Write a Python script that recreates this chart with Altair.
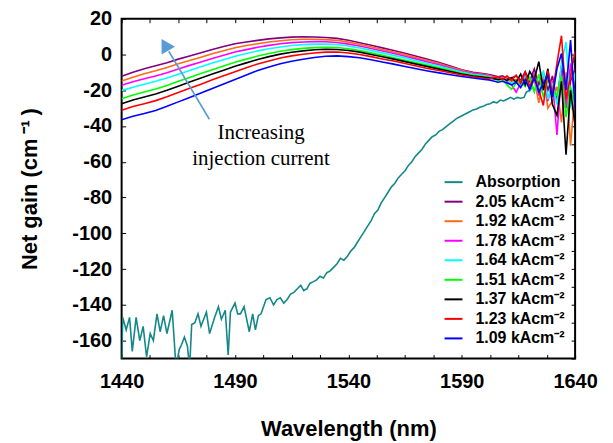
import altair as alt
import pandas as pd

# ---------------- data ----------------
gain_wl = [1440, 1445, 1450, 1455, 1460, 1465, 1470, 1475, 1480, 1485, 1490,
           1495, 1500, 1505, 1510, 1515, 1520, 1525, 1530, 1535, 1540, 1545,
           1550, 1555, 1560, 1565, 1570, 1575, 1580, 1585, 1590, 1595, 1600,
           1602, 1604, 1606, 1608, 1610, 1612, 1614, 1616, 1618, 1620, 1622,
           1624, 1626, 1628, 1630, 1632, 1634, 1636, 1638, 1640]

current_labels = ["2.05", "1.92", "1.78", "1.64", "1.51", "1.37", "1.23", "1.09"]

gain_205 = [-12.2, -10.0, -8.0, -6.3, -4.6, -2.6, -0.8, 1.0, 2.8, 4.4, 6.0,
            7.0, 7.9, 8.7, 9.3, 9.7, 9.9, 9.8, 9.5, 9.0, 7.9, 6.6,
            5.2, 3.7, 2.2, 0.7, -1.0, -2.7, -4.5, -6.5, -8.5, -10.0, -10.8,
            -11.2, -11.8, -12.5, -12.0, -13.5, -13.0, -12.0, -14.5, -9.5, -15.0, -8.0,
            -17.0, -10.0, -20.0, -12.0, -26.0, -6.0, -30.0, -15.0, -8.0]
gain_192 = [-14.9, -12.7, -10.8, -9.1, -7.3, -5.2, -3.4, -1.5, 0.4, 2.1, 3.8,
            5.0, 6.0, 7.0, 7.7, 8.2, 8.5, 8.5, 8.3, 7.9, 6.9, 5.7,
            4.3, 2.8, 1.4, -0.1, -1.8, -3.4, -5.1, -7.0, -8.9, -10.4, -11.2,
            -11.6, -12.4, -13.0, -12.8, -14.0, -15.0, -14.0, -17.5, -13.0, -20.0, -14.0,
            -27.0, -12.0, -30.0, -26.0, -18.0, -38.0, -10.0, -51.0, -20.0]
gain_178 = [-17.2, -15.3, -13.6, -12.0, -10.2, -8.1, -6.1, -4.2, -2.2, -0.4, 1.4,
            2.7, 4.0, 5.1, 6.0, 6.6, 7.0, 7.2, 7.1, 6.7, 5.8, 4.7,
            3.3, 1.9, 0.5, -1.0, -2.6, -4.2, -5.8, -7.6, -9.4, -10.7, -11.5,
            -12.0, -12.8, -13.5, -13.0, -15.0, -17.0, -21.0, -16.0, -12.0, -19.0, -10.0,
            -23.0, -14.0, -26.0, -15.0, -45.0, -10.0, -30.0, -5.0, -25.0]
gain_164 = [-20.2, -18.3, -16.6, -15.0, -13.1, -11.0, -8.9, -6.9, -4.8, -2.9, -1.0,
            0.5, 2.0, 3.2, 4.2, 5.0, 5.5, 5.8, 5.8, 5.6, 4.7, 3.7,
            2.3, 0.9, -0.5, -1.9, -3.5, -5.0, -6.5, -8.2, -9.8, -11.1, -11.9,
            -12.3, -13.0, -13.8, -13.2, -14.5, -16.0, -15.0, -18.0, -11.0, -20.0, -12.0,
            -22.0, -9.0, -25.0, -16.0, -28.0, -5.0, 7.0, -30.0, -10.0]
gain_151 = [-24.8, -22.7, -21.0, -19.3, -17.3, -15.0, -12.9, -10.7, -8.5, -6.5, -4.4,
            -2.6, -0.9, 0.5, 1.8, 2.7, 3.4, 3.8, 4.0, 3.9, 3.2, 2.2,
            0.9, -0.4, -1.8, -3.2, -4.6, -6.1, -7.5, -9.0, -10.5, -11.7, -12.5,
            -12.8, -13.5, -14.5, -14.0, -17.0, -19.5, -16.0, -15.0, -18.0, -13.0, -21.0,
            -11.0, -24.0, -14.0, -20.0, -23.0, -12.0, -35.0, -18.0, -28.0]
gain_137 = [-27.5, -25.4, -23.8, -22.1, -20.0, -17.7, -15.4, -13.2, -10.9, -8.8, -6.6,
            -4.7, -2.8, -1.2, 0.2, 1.2, 2.0, 2.6, 2.9, 2.8, 2.2, 1.3,
            0.0, -1.3, -2.6, -4.0, -5.4, -6.8, -8.2, -9.5, -10.9, -12.0, -12.8,
            -13.0, -13.5, -14.0, -13.5, -14.5, -13.0, -15.5, -11.0, -17.0, -9.5, -14.0,
            -4.0, -20.0, -8.0, -28.0, -34.0, -15.0, -56.0, -20.0, -40.0]
gain_123 = [-31.2, -29.1, -27.5, -25.8, -23.6, -21.2, -18.9, -16.6, -14.2, -11.9, -9.6,
            -7.4, -5.3, -3.6, -2.0, -0.8, 0.1, 0.8, 1.3, 1.4, 0.8, 0.0,
            -1.2, -2.5, -3.7, -5.1, -6.5, -7.8, -9.0, -10.2, -11.5, -12.5, -13.3,
            -13.5, -13.0, -12.5, -14.0, -12.0, -14.5, -11.5, -16.0, -10.0, -18.0, -12.0,
            -20.0, -28.5, -9.0, -22.0, -5.0, 10.5, -25.0, -12.0, 2.0]
gain_109 = [-36.5, -34.5, -33.0, -31.3, -29.0, -26.5, -24.0, -21.5, -19.0, -16.5, -14.0,
            -11.5, -9.0, -7.0, -5.2, -3.8, -2.7, -1.7, -1.0, -0.8, -1.2, -1.8,
            -3.0, -4.2, -5.4, -6.7, -8.0, -9.2, -10.3, -11.3, -12.3, -13.2, -14.0,
            -14.2, -14.8, -15.5, -15.0, -16.0, -17.0, -15.5, -18.5, -14.0, -19.5, -13.0,
            -21.0, -16.0, -12.0, -24.0, -8.0, 0.5, -20.0, 8.0, -30.0]

abs_wl = [1440.0, 1440.5, 1442.0, 1443.5, 1444.7, 1446.4, 1448.0, 1449.5, 1451.0,
          1452.6, 1454.0, 1455.6, 1457.0, 1458.5, 1460.0, 1462.3, 1464.0, 1465.4,
          1466.5, 1467.7, 1469.0, 1470.0, 1470.9, 1472.3, 1473.7, 1475.0, 1477.4,
          1478.8, 1481.0, 1482.7, 1484.0, 1485.7, 1487.0, 1488.0, 1490.0, 1491.2,
          1492.4, 1494.0, 1496.3, 1497.8, 1499.0, 1500.3, 1501.5, 1503.7, 1505.4,
          1507.0, 1508.5, 1510.0, 1511.5, 1513.0, 1514.5, 1516.0, 1517.5, 1519.0,
          1520.3, 1521.7, 1523.0, 1524.6, 1526.0, 1527.5, 1529.0, 1530.5, 1532.0,
          1533.5, 1535.0, 1536.5, 1538.0, 1539.5, 1541.0, 1542.5, 1544.0, 1545.5,
          1547.0, 1548.5, 1550.0, 1551.5, 1553.0, 1554.5, 1556.0, 1557.5, 1559.0,
          1560.5, 1562.0, 1563.5, 1565.0, 1566.5, 1568.0, 1569.5, 1571.0, 1572.5,
          1574.0, 1575.5, 1577.0, 1578.5, 1580.0, 1581.5, 1583.0, 1584.5, 1586.0,
          1587.5, 1589.0, 1590.5, 1592.0, 1593.5, 1595.0, 1596.5, 1598.0, 1599.5,
          1601.0, 1602.5, 1604.0, 1605.5, 1607.0, 1608.5, 1610.0, 1611.5, 1613.0,
          1614.5, 1616.0, 1617.5, 1618.5, 1620.0, 1621.5]
abs_val = [-175, -147, -154, -147, -166, -147, -160, -152, -169,
           -156, -160, -145, -155, -146, -156, -143, -175, -165,
           -162, -158, -163, -175, -151, -150, -145, -152, -144,
           -156, -147, -141, -148, -143, -168, -144, -139, -145,
           -145, -141, -155, -145, -154, -146, -145, -137, -136,
           -140, -137, -136, -139, -137, -134, -133, -131, -129,
           -132, -131, -128, -127, -126, -124, -125, -122, -121,
           -119, -117, -114, -115, -113, -110, -108, -105, -102,
           -99, -96, -93, -89, -87, -83, -80, -77, -74,
           -72, -69, -67, -65, -62, -60, -57, -55, -53,
           -50, -48, -46, -45, -43, -42, -40.5, -39, -37.5,
           -36, -35, -34, -33, -32, -31, -30.5, -29.5, -29,
           -28, -27.5, -26.5, -27, -25.5, -26, -25, -24, -25,
           -24, -24.5, -24, -21, -20, -18]

series_colors = ["#148888", "#800080", "#ff6a13", "#ff00ff", "#00ffff",
                 "#00ff00", "#000000", "#ff0000", "#0000ff"]

x_ticks = [1440, 1452.5, 1465, 1477.5, 1490, 1502.5, 1515, 1527.5, 1540, 1552.5,
           1565, 1577.5, 1590, 1602.5, 1615, 1627.5, 1640]
y_major = [-160, -140, -120, -100, -80, -60, -40, -20, 0, 20]
y_minor = [-170, -160, -150, -140, -130, -120, -110, -100, -90, -80, -70, -60,
           -50, -40, -30, -20, -10, 0, 10, 20]

arrow_wl = [1478.7, 1460.8]
arrow_val = [-36.2, 1.8]
head_wl = [1459.1]
head_val = [5.4]
note_wl = [1501.5, 1501.5]
note_val = [-44.1, -58.4]
note_txt = ["Increasing", "injection current"]

# ---------------- tables ----------------
unit = " kAcm\u207b\u00b2"
names = ["Absorption"] + [c + unit for c in current_labels]
gain_series = [gain_205, gain_192, gain_178, gain_164, gain_151, gain_137, gain_123, gain_109]
rows = []
for k, (lab, vals) in enumerate(zip(current_labels, gain_series)):
    assert len(vals) == len(gain_wl), (lab, len(vals))
    for w, v in zip(gain_wl, vals):
        rows.append({"wl": w, "val": v, "series": lab + unit, "k": k})
gain_df = pd.DataFrame(rows)
abs_df = pd.DataFrame({"wl": abs_wl, "val": abs_val, "series": "Absorption"})
arrow_df = pd.DataFrame({"wl": arrow_wl, "val": arrow_val})
head_df = pd.DataFrame({"wl": head_wl, "val": head_val})
note_df = pd.DataFrame({"wl": note_wl, "val": note_val, "txt": note_txt})

FONT = "Liberation Sans"
xs = alt.Scale(domain=[1440, 1640], nice=False, zero=False)
ys = alt.Scale(domain=[-170, 20], nice=False, zero=False)

color = alt.Color(
    "series:N",
    scale=alt.Scale(domain=names, range=series_colors),
    legend=alt.Legend(orient="none", legendX=323, legendY=154, title=None,
                      symbolType="stroke", symbolStrokeWidth=2, symbolSize=324,
                      labelFont=FONT, labelFontWeight="bold", labelFontSize=16,
                      labelOffset=12, rowPadding=1.6, padding=0, labelLimit=300),
)

absorption = alt.Chart(abs_df).mark_line(strokeWidth=1.6, clip=True).encode(
    x=alt.X("wl:Q", scale=xs,
            axis=alt.Axis(orient="top", values=x_ticks, labels=False, offset=-4,
                          tickSize=4, domain=False, title=None, grid=False)),
    y=alt.Y("val:Q", scale=ys,
            axis=alt.Axis(orient="right", values=y_minor, labels=False, offset=-4,
                          tickSize=4, domain=False, title=None, grid=False)),
    color=color,
)

gain = alt.Chart(gain_df).mark_line(strokeWidth=1.6, clip=True).encode(
    x=alt.X("wl:Q", scale=xs,
            axis=alt.Axis(orient="bottom", values=x_ticks, offset=-4, tickSize=4,
                          domain=False, grid=False,
                          labelExpr="datum.value % 50 == 40 ? '' + datum.value : ''",
                          labelOverlap=False, labelFlush=False, labelPadding=13,
                          title="Wavelength (nm)", titlePadding=27)),
    y=alt.Y("val:Q", scale=ys,
            axis=alt.Axis(orient="left", values=y_major, offset=-4, tickSize=4,
                          domain=False, grid=False,
                          labelExpr="datum.value < 0 ? '-' + abs(datum.value) : '' + datum.value",
                          labelOverlap=False, labelPadding=10,
                          title="Net gain (cm\u2009\u207b\u00b9\u2009)", titlePadding=30)),
    color=color,
    order=alt.Order("k:Q"),
)

arrow = alt.Chart(arrow_df).mark_line(color="#5b9bd5", strokeWidth=1.6).encode(
    x=alt.X("wl:Q", scale=xs, axis=None),
    y=alt.Y("val:Q", scale=ys, axis=None),
)
head = alt.Chart(head_df).mark_point(shape="triangle-up", filled=True, size=240,
                                     angle=330, color="#5b9bd5", opacity=1).encode(
    x=alt.X("wl:Q", scale=xs, axis=None),
    y=alt.Y("val:Q", scale=ys, axis=None),
)
note = alt.Chart(note_df).mark_text(font="Liberation Serif", fontSize=21,
                                    align="center", baseline="middle",
                                    color="black").encode(
    x=alt.X("wl:Q", scale=xs, axis=None),
    y=alt.Y("val:Q", scale=ys, axis=None),
    text="txt:N",
)

chart = alt.layer(absorption, gain, arrow, head, note).resolve_axis(
    x="independent", y="independent"
).properties(
    width=455, height=341,
    autosize=alt.AutoSizeParams(type="none"),
    padding={"left": 114, "top": 10, "right": 30, "bottom": 84},
).configure_view(
    stroke="black", strokeWidth=2
).configure_axis(
    labelFont=FONT, labelFontWeight="bold", labelFontSize=20, labelColor="black",
    titleFont=FONT, titleFontWeight="bold", titleFontSize=22, titleColor="black",
    tickColor="black", tickWidth=1,
).configure_legend(
    labelColor="black"
)

chart.save("out.html", embed_options={"renderer": "svg", "actions": False})
